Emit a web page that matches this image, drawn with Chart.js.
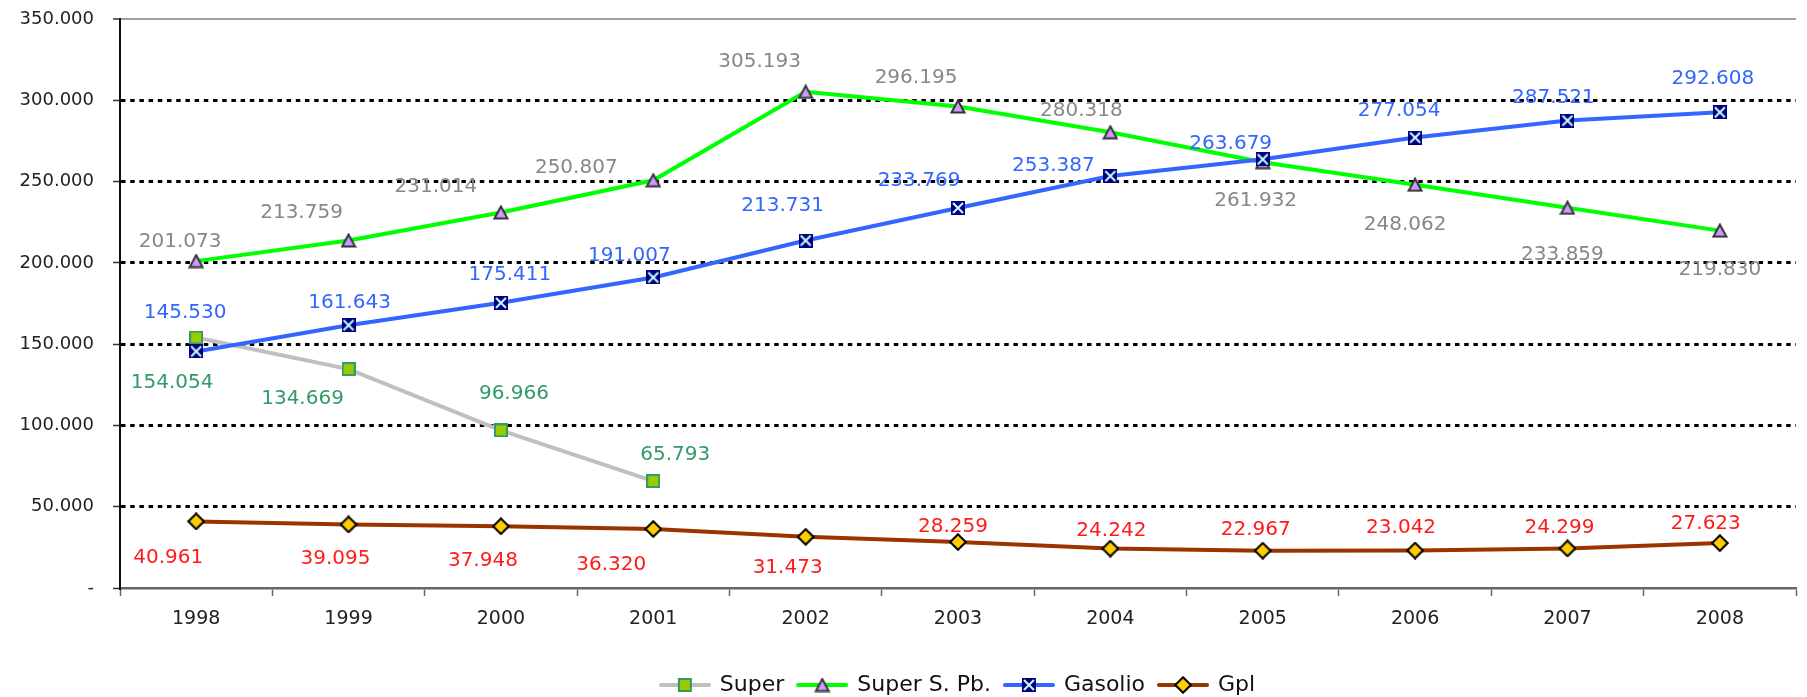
<!DOCTYPE html>
<html>
<head>
<meta charset="utf-8">
<title>Consumi carburanti 1998-2008</title>
<script src="https://cdn.jsdelivr.net/npm/chart.js@4.4.1/dist/chart.umd.min.js"></script>
<style>
  html, body { margin: 0; padding: 0; background: #fff; }
  #chart { display: block; }
</style>
</head>
<body>
<canvas id="chart" width="1807" height="697"></canvas>
<script>
// ----- Data -----
const years = ["1998", "1999", "2000", "2001", "2002", "2003", "2004", "2005", "2006", "2007", "2008"];
const superVals = [154054, 134669, 96966, 65793];
const superSPbVals = [201073, 213759, 231014, 250807, 305193, 296195, 280318, 261932, 248062, 233859, 219830];
const gasolioVals = [145530, 161643, 175411, 191007, 213731, 233769, 253387, 263679, 277054, 287521, 292608];
const gplVals = [40961, 39095, 37948, 36320, 31473, 28259, 24242, 22967, 23042, 24299, 27623];
const yMax = 350000;
const yStep = 50000;

// ----- Label placement (pixel offsets from each point) -----
const superLabelOffsets = [[-24, 43], [-46, 28], [13, -39], [22, -28]];
const spbLabelOffsets = [[-16, -21], [-47, -30], [-65, -28], [-77, -15], [-46, -32], [-42, -31], [-29, -24], [-7, 37], [-10, 38], [-5, 45], [0, 37]];
const gasLabelOffsets = [[-11, -41], [1, -25], [9, -30], [-24, -24], [-23, -37], [-39, -29], [-57, -12], [-32, -18], [-16, -29], [-14, -25], [-7, -36]];
const gplLabelOffsets = [[-28, 34], [-13, 32], [-18, 32], [-42, 34], [-18, 29], [-5, -17], [1, -20], [-7, -23], [-14, -25], [-8, -23], [-14, -21]];

const FONT = "'DejaVu Sans', Verdana, sans-serif";

// ----- Utility -----
function formatNum(v) {
  return String(v).replace(/\B(?=(\d{3})+(?!\d))/g, ".");
}

function makeCanvas(w, h) {
  const c = document.createElement("canvas");
  c.width = w;
  c.height = h;
  return c;
}

// ----- Markers -----
function squareMarker() {
  const c = makeCanvas(14, 14);
  const g = c.getContext("2d");
  g.fillStyle = "#99cc00";
  g.fillRect(1, 1, 12, 12);
  g.strokeStyle = "#339966";
  g.lineWidth = 2;
  g.strokeRect(1, 1, 12, 12);
  return c;
}

function triangleMarker() {
  const c = makeCanvas(16, 15);
  const g = c.getContext("2d");
  g.beginPath();
  g.moveTo(8, 1.5);
  g.lineTo(14.5, 13.5);
  g.lineTo(1.5, 13.5);
  g.closePath();
  g.fillStyle = "#cc99ff";
  g.fill();
  g.strokeStyle = "#333333";
  g.lineWidth = 2;
  g.stroke();
  return c;
}

function crossMarker() {
  const c = makeCanvas(14, 14);
  const g = c.getContext("2d");
  g.fillStyle = "#000080";
  g.fillRect(0, 0, 14, 14);
  g.strokeStyle = "#ccffff";
  g.lineWidth = 2;
  g.beginPath();
  g.moveTo(2, 2);
  g.lineTo(12, 12);
  g.moveTo(12, 2);
  g.lineTo(2, 12);
  g.stroke();
  return c;
}

function diamondMarker() {
  const c = makeCanvas(18, 18);
  const g = c.getContext("2d");
  g.beginPath();
  g.moveTo(9, 1.2);
  g.lineTo(16.8, 9);
  g.lineTo(9, 16.8);
  g.lineTo(1.2, 9);
  g.closePath();
  g.fillStyle = "#ffcc00";
  g.fill();
  g.strokeStyle = "#000000";
  g.lineWidth = 2;
  g.stroke();
  return c;
}

function legendIcon(lineColor, marker) {
  const c = makeCanvas(52, 20);
  const g = c.getContext("2d");
  g.strokeStyle = lineColor;
  g.lineWidth = 4;
  g.lineCap = "round";
  g.beginPath();
  g.moveTo(2, 10);
  g.lineTo(50, 10);
  g.stroke();
  g.drawImage(marker, 26 - marker.width / 2, 10 - marker.height / 2);
  return c;
}

const markers = [squareMarker(), triangleMarker(), crossMarker(), diamondMarker()];
const lineColors = ["#c0c0c0", "#00ff00", "#3366ff", "#993300"];
const labelColors = ["#339966", "#878787", "#3366ff", "#ff1a1a"];
const labelOffsets = [superLabelOffsets, spbLabelOffsets, gasLabelOffsets, gplLabelOffsets];
const legendIcons = lineColors.map((col, i) => legendIcon(col, markers[i]));

// ----- Plugin: value labels -----
const valueLabels = {
  id: "valueLabels",
  afterDatasetsDraw(chart) {
    const ctx = chart.ctx;
    const size = 20;
    ctx.save();
    ctx.font = size + "px " + FONT;
    ctx.textAlign = "center";
    ctx.textBaseline = "alphabetic";
    chart.data.datasets.forEach((ds, di) => {
      const meta = chart.getDatasetMeta(di);
      ctx.fillStyle = labelColors[di];
      meta.data.forEach((pt, i) => {
        const off = labelOffsets[di][i] || [0, -20];
        ctx.fillText(formatNum(ds.data[i]), pt.x + off[0], pt.y + off[1] + size * 0.365);
      });
    });
    ctx.restore();
  },
};

// ----- Chart -----
function makeDataset(label, data, i) {
  return {
    label: label,
    data: data,
    borderColor: lineColors[i],
    backgroundColor: lineColors[i],
    borderWidth: 4,
    pointStyle: markers[i],
    pointRadius: 7,
    pointHoverRadius: 7,
    tension: 0,
    fill: false,
    order: 4 - i,
  };
}

function buildChart() {
  const ctx = document.getElementById("chart").getContext("2d");
  return new Chart(ctx, {
    type: "line",
    data: {
      labels: years,
      datasets: [
        makeDataset("Super", superVals, 0),
        makeDataset("Super S. Pb.", superSPbVals, 1),
        makeDataset("Gasolio", gasolioVals, 2),
        makeDataset("Gpl", gplVals, 3),
      ],
    },
    options: {
      responsive: false,
      animation: false,
      devicePixelRatio: 1,
      layout: { padding: { top: 19, right: 0, bottom: -9, left: 0 } },
      plugins: {
        tooltip: { enabled: false },
        legend: {
          position: "bottom",
          fullSize: false,
          labels: {
            usePointStyle: true,
            pointStyleWidth: 48,
            padding: 14,
            color: "#111",
            font: { family: FONT, size: 22 },
            sort: (a, b) => a.datasetIndex - b.datasetIndex,
            generateLabels(chart) {
              const items = Chart.defaults.plugins.legend.labels.generateLabels(chart);
              items.forEach((it) => {
                it.pointStyle = legendIcons[it.datasetIndex];
              });
              return items;
            },
          },
        },
      },
      scales: {
        x: {
          offset: true,
          afterFit(scale) {
            scale.height = 72;
          },
          grid: {
            offset: true,
            drawOnChartArea: false,
            drawTicks: true,
            tickLength: 8,
            tickColor: "#666",
            tickWidth: 1.5,
          },
          border: { color: "#666", width: 2.5 },
          ticks: {
            color: "#222",
            padding: 12,
            maxRotation: 0,
            font: { family: FONT, size: 19 },
          },
        },
        y: {
          min: 0,
          max: yMax,
          afterFit(scale) {
            // fixed axis width; keep tick padding from pushing the plot down
            scale.width = 120;
            scale.paddingTop = 5;
            scale.paddingBottom = 5;
          },
          grid: {
            color: (c) => {
              if (!c.tick) return "#000";
              if (c.tick.value === 0) return "rgba(0,0,0,0)";
              if (c.tick.value === yMax) return "#a0a0a0";
              return "#000";
            },
            lineWidth: (c) => (c.tick && c.tick.value === yMax ? 2 : 3),
            tickLength: 7,
            tickColor: "#333",
            tickWidth: 1.5,
          },
          border: {
            color: "#111",
            width: 2,
            dash: (c) => (c.tick && c.tick.value === yMax ? [] : [4.5, 4.7]),
          },
          ticks: {
            stepSize: yStep,
            color: "#222",
            padding: 19,
            font: { family: FONT, size: 18 },
            callback: (v) => (v === 0 ? "-" : formatNum(v)),
          },
        },
      },
    },
    plugins: [valueLabels],
  });
}

document.addEventListener("DOMContentLoaded", () => {
  buildChart();
});
</script>
</body>
</html>
